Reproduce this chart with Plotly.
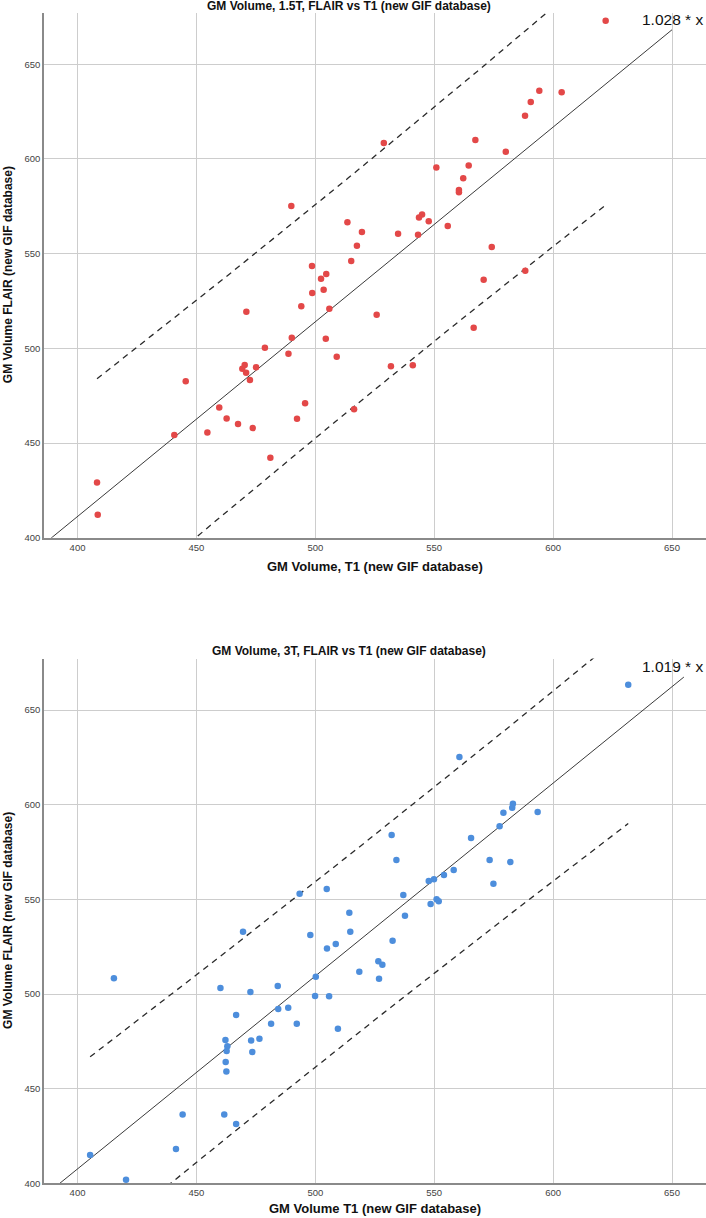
import numpy as np
import plotly.graph_objects as go

# ---------------- data ----------------
t1_15T = [622.1, 594.2, 603.6, 590.6, 588.2, 567.3, 528.8, 580.1, 550.9, 564.5,
          562.2, 560.4, 560.4, 544.9, 543.6, 547.7, 555.7, 513.5, 519.6, 534.8,
          543.2, 517.5, 574.2, 515.1, 498.6, 502.4, 504.6, 498.7, 503.5, 570.8,
          588.3, 489.9, 471.0, 494.1, 505.9, 525.8, 490.1, 504.4, 478.8, 488.7,
          509.0, 470.3, 469.3, 475.1, 470.9, 472.5, 445.5, 459.6, 495.7, 462.7,
          492.3, 467.5, 473.7, 454.6, 440.7, 516.3, 481.1, 408.2, 408.5, 566.6,
          531.8, 541.0]
flair_15T = [673.0, 636.0, 635.2, 630.0, 622.8, 610.0, 608.4, 603.8, 595.4, 596.5,
             589.8, 583.6, 582.4, 570.7, 569.0, 567.1, 564.6, 566.5, 561.4, 560.5,
             560.0, 554.2, 553.5, 546.1, 543.4, 536.7, 539.2, 529.2, 530.9, 536.2,
             541.0, 575.1, 519.3, 522.2, 520.9, 517.7, 505.6, 505.1, 500.3, 497.1,
             495.6, 491.2, 489.2, 490.0, 487.1, 483.3, 482.6, 468.8, 471.0, 463.0,
             462.8, 460.0, 457.9, 455.6, 454.2, 467.8, 442.2, 429.2, 412.1, 510.9,
             490.5, 491.0]

t1_3T = [631.6, 560.6, 583.1, 582.8, 579.1, 593.5, 577.5, 532.1, 565.5, 534.1,
         573.3, 582.0, 558.2, 554.1, 549.9, 547.7, 574.9, 537.0, 551.0, 551.9,
         548.5, 537.7, 514.3, 514.7, 532.5, 493.4, 504.8, 469.6, 497.9, 504.9,
         508.6, 518.5, 415.3, 500.2, 460.1, 472.7, 484.2, 499.9, 505.8, 484.4,
         488.6, 466.7, 481.4, 492.2, 509.5, 462.2, 473.0, 476.5, 463.0, 462.7,
         473.5, 462.3, 462.6, 444.2, 461.7, 466.7, 441.4, 405.3, 420.4, 526.5,
         528.2, 526.8]
flair_3T = [663.4, 625.2, 600.5, 598.4, 595.8, 596.1, 588.6, 584.0, 582.4, 570.8,
            570.8, 569.7, 565.5, 562.9, 560.6, 559.7, 558.3, 552.3, 550.0, 549.0,
            547.5, 541.4, 542.9, 532.9, 528.2, 553.0, 555.5, 532.9, 531.2, 524.1,
            526.4, 511.8, 508.3, 509.1, 503.2, 501.1, 504.2, 498.9, 498.8, 492.1,
            492.8, 488.9, 484.3, 484.3, 481.7, 475.7, 475.5, 476.4, 472.4, 469.9,
            469.4, 464.1, 459.0, 436.4, 436.4, 431.3, 418.1, 415.0, 401.9, 517.3,
            515.5, 508.1]

panel_titles = ["GM Volume, 1.5T, FLAIR vs T1 (new GIF database)",
                "GM Volume, 3T, FLAIR vs T1 (new GIF database)"]
x_titles = ["GM Volume, T1 (new GIF database)", "GM Volume T1 (new GIF database)"]
y_title = "GM Volume FLAIR (new GIF database)"
fit_slopes = [1.028, 1.019]
fit_x_end = [650, 655]
x_ticks = [400, 450, 500, 550, 600, 650]
y_ticks = [400, 450, 500, 550, 600, 650]
t_crit = 2.0

# ---------------- styling ----------------
W, H = 706, 1218
FONT = "Liberation Sans, Arial, sans-serif"
colors = ["#e34848", "#4d8edc"]
L = 44
PW = W - L
x_range = [385.9, 664.3]
y_range = [400, 677.2]
# pixel rows of each panel (top, bottom)
panel_px = [(12.7, 537.7), (658.6, 1183.3)]
title_px = [6, 651]
xtitle_px = [566, 1208]


def py(p):
    return 1 - p / H


def pxp(p):
    return (p - L) / PW


fig = go.Figure()
annotations = []
series = [(t1_15T, flair_15T), (t1_3T, flair_3T)]

for i, (xs, ys) in enumerate(series):
    xa = "x" if i == 0 else "x2"
    ya = "y" if i == 0 else "y2"
    xs_a = np.array(xs)
    ys_a = np.array(ys)

    # 95% prediction interval of the linear fit (with intercept)
    n = len(xs_a)
    b, a = np.polyfit(xs_a, ys_a, 1)
    resid = ys_a - (a + b * xs_a)
    s = np.sqrt(np.sum(resid ** 2) / (n - 2))
    xbar = xs_a.mean()
    sxx = np.sum((xs_a - xbar) ** 2)
    xg = np.linspace(xs_a.min(), xs_a.max(), 80)
    half = t_crit * s * np.sqrt(1 + 1 / n + (xg - xbar) ** 2 / sxx)
    for sign in (1, -1):
        fig.add_trace(go.Scatter(x=xg, y=a + b * xg + sign * half, mode="lines",
                                 line=dict(color="#2a2a2a", width=1.3, dash="6px,5px"),
                                 xaxis=xa, yaxis=ya, showlegend=False, hoverinfo="skip"))

    # reference fit line y = k x
    k = fit_slopes[i]
    xl = np.array([x_range[0], fit_x_end[i]])
    fig.add_trace(go.Scatter(x=xl, y=k * xl, mode="lines",
                             line=dict(color="#3a3a3a", width=1),
                             xaxis=xa, yaxis=ya, showlegend=False, hoverinfo="skip"))

    fig.add_trace(go.Scatter(x=xs, y=ys, mode="markers",
                             marker=dict(color=colors[i], size=6.5, line=dict(width=0)),
                             xaxis=xa, yaxis=ya, showlegend=False))

    annotations.append(dict(x=1, y=k * fit_x_end[i], xref="paper", yref=ya,
                            text=f"{k:.3f} * x", showarrow=False, xanchor="right",
                            yanchor="bottom", xshift=-1, yshift=0,
                            font=dict(family=FONT, size=15.5, color="#111")))
    annotations.append(dict(x=pxp(349), y=py(title_px[i]), xref="paper", yref="paper",
                            text=f"<b>{panel_titles[i]}</b>", showarrow=False,
                            xanchor="center", yanchor="middle",
                            font=dict(family=FONT, size=12, color="#111")))
    annotations.append(dict(x=0.5, y=py(xtitle_px[i]), xref="paper", yref="paper",
                            text=f"<b>{x_titles[i]}</b>", showarrow=False,
                            xanchor="center", yanchor="middle",
                            font=dict(family=FONT, size=13, color="#111")))
    top, bot = panel_px[i]
    annotations.append(dict(x=pxp(8), y=py((top + bot) / 2), xref="paper", yref="paper",
                            text=f"<b>{y_title}</b>", showarrow=False, textangle=-90,
                            xanchor="center", yanchor="middle",
                            font=dict(family=FONT, size=12, color="#111")))

axis_common = dict(showgrid=True, gridcolor="#cdcdcd", gridwidth=1, zeroline=False,
                   showline=True, linecolor="#8a8a8a", linewidth=1.5, ticks="",
                   tickfont=dict(family=FONT, size=9.5, color="#444"), automargin=False)

layout = dict(width=W, height=H, margin=dict(l=L, r=0, t=0, b=0),
              paper_bgcolor="white", plot_bgcolor="white",
              font=dict(family=FONT), annotations=annotations, showlegend=False)
fig.update_layout(**layout)
for i in range(2):
    top, bot = panel_px[i]
    xkey = "xaxis" if i == 0 else "xaxis2"
    ykey = "yaxis" if i == 0 else "yaxis2"
    fig.update_layout({
        xkey: dict(domain=[0, 1], range=x_range, tickvals=x_ticks,
                   anchor="y" if i == 0 else "y2", **axis_common),
        ykey: dict(domain=[py(bot), py(top)], range=y_range, tickvals=y_ticks,
                   anchor="x" if i == 0 else "x2", **axis_common),
    })

fig.write_html("out.html",
               config={"displayModeBar": False},
               post_script="document.body.style.margin='0';"
                           "document.documentElement.style.overflow='hidden';")
